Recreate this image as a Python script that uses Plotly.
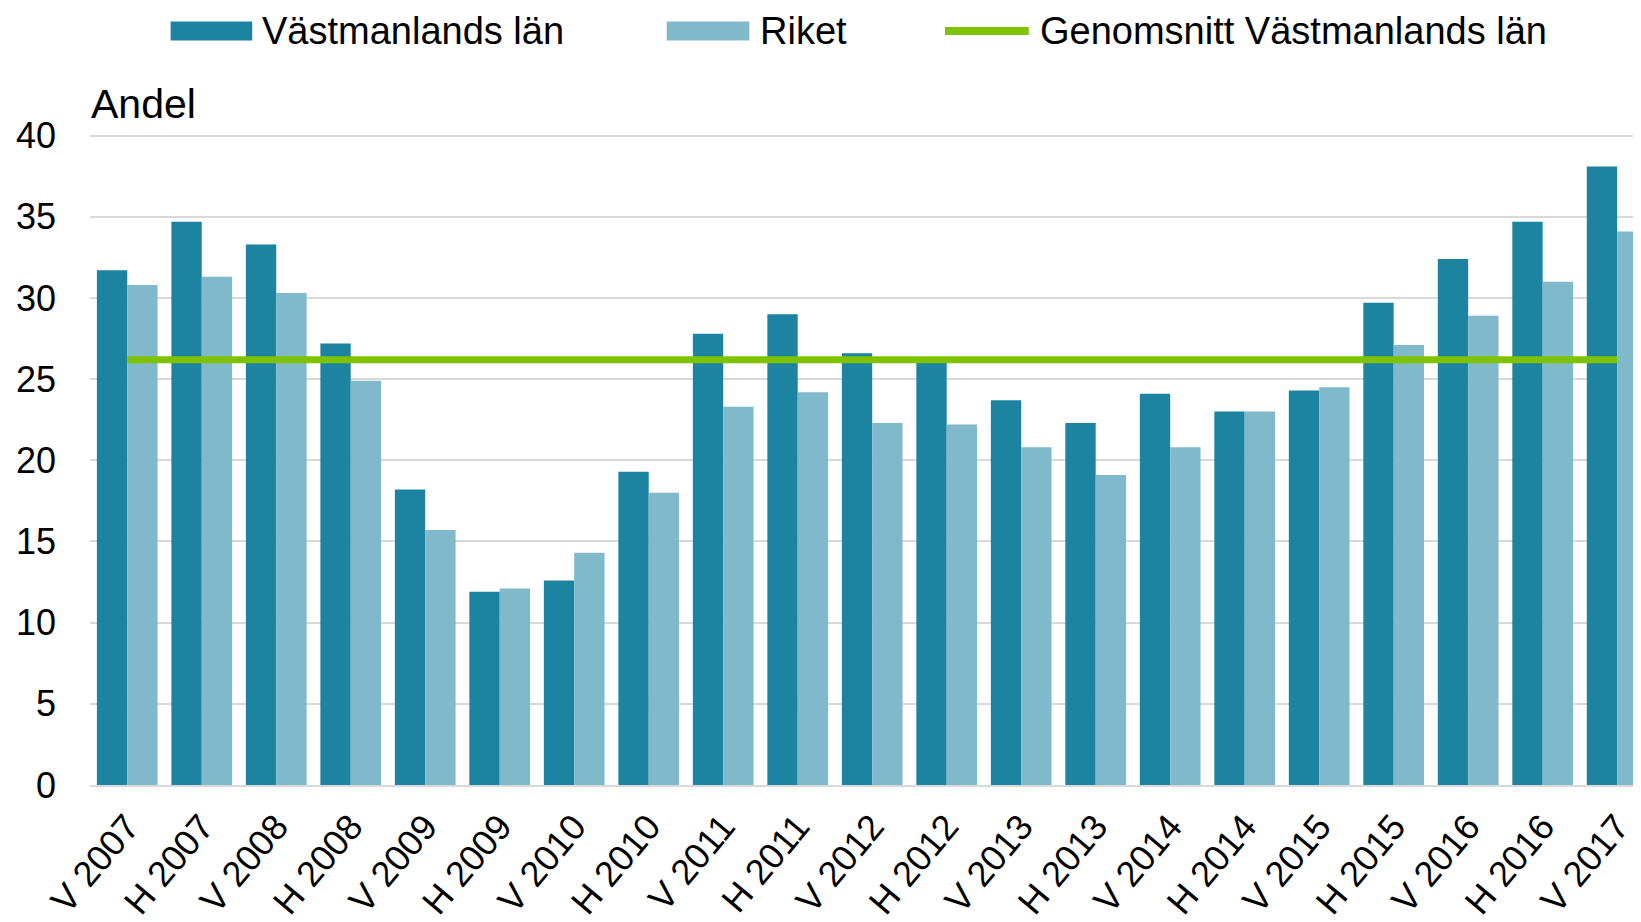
import plotly.graph_objects as go
import numpy as np

categories = ["V 2007", "H 2007", "V 2008", "H 2008", "V 2009", "H 2009", "V 2010",
              "H 2010", "V 2011", "H 2011", "V 2012", "H 2012", "V 2013", "H 2013",
              "V 2014", "H 2014", "V 2015", "H 2015", "V 2016", "H 2016", "V 2017"]
vastmanland = [31.7, 34.7, 33.3, 27.2, 18.2, 11.9, 12.6, 19.3, 27.8, 29.0, 26.6,
               26.1, 23.7, 22.3, 24.1, 23.0, 24.3, 29.7, 32.4, 34.7, 38.1]
riket = [30.8, 31.3, 30.3, 24.9, 15.7, 12.1, 14.3, 18.0, 23.3, 24.2, 22.3,
         22.2, 20.8, 19.1, 20.8, 23.0, 24.5, 27.1, 28.9, 31.0, 34.1]
avg_value = round(float(np.mean(vastmanland)), 1)
avg_line = [avg_value] * len(categories)

names = ["Västmanlands län", "Riket", "Genomsnitt Västmanlands län"]
c_dark = "#1C83A1"
c_light = "#80B9CA"
c_green = "#7FC300"
FONT = "Liberation Sans, Arial, sans-serif"

OFF = 8  # page body margin
W, H = 1641 - OFF, 922 - OFF
ML, MR, MT, MB = 82, 0, 126, 134
PW = W - ML - MR
PH = H - MT - MB

def px_x(p):  # window pixel -> paper
    return (p - OFF - ML) / PW

def px_y(p):
    return (H - MB - (p - OFF)) / PH

fig = go.Figure()
fig.add_trace(go.Bar(x=categories, y=vastmanland, name=names[0], marker_color=c_dark,
                     marker_line_width=0))
fig.add_trace(go.Bar(x=categories, y=riket, name=names[1], marker_color=c_light,
                     marker_line_width=0))
fig.add_trace(go.Scatter(x=categories, y=avg_line, name=names[2], mode="lines",
                         line=dict(color=c_green, width=7)))

# manual legend
shapes = []
annotations = []
leg_items = [
    (170.6, 252.2, "bar", c_dark, 260.0, names[0]),
    (666.7, 749.4, "bar", c_light, 758.0, names[1]),
    (945.0, 1028.8, "line", c_green, 1037.5, names[2]),
]
ly = 30.5
for x0, x1, kind, col, tx, label in leg_items:
    if kind == "bar":
        shapes.append(dict(type="rect", xref="paper", yref="paper",
                           x0=px_x(x0), x1=px_x(x1), y0=px_y(ly + 9.5), y1=px_y(ly - 9.5),
                           fillcolor=col, line=dict(width=0)))
    else:
        shapes.append(dict(type="line", xref="paper", yref="paper",
                           x0=px_x(x0), x1=px_x(x1), y0=px_y(ly), y1=px_y(ly),
                           line=dict(color=col, width=8)))
    annotations.append(dict(text=label, xref="paper", yref="paper", x=px_x(tx), y=px_y(ly),
                             xanchor="left", yanchor="middle", showarrow=False,
                             font=dict(family=FONT, size=38, color="#000000")))

annotations.append(dict(text="Andel", xref="paper", yref="paper", x=px_x(89), y=px_y(104),
                        xanchor="left", yanchor="middle", showarrow=False,
                        font=dict(family=FONT, size=41, color="#000000")))

fig.update_layout(
    width=W, height=H,
    margin=dict(l=ML, r=MR, t=MT, b=MB, pad=0),
    paper_bgcolor="white", plot_bgcolor="white",
    barmode="group", bargap=0.185, bargroupgap=0,
    showlegend=False,
    shapes=shapes, annotations=annotations,
    font=dict(family=FONT, size=36, color="#000000"),
)
fig.update_xaxes(type="category", range=[-0.5, 20.32], tickangle=-50,
                 tickfont=dict(family=FONT, size=36, color="#000000"),
                 showgrid=False, showline=True, linecolor="#D9D9D9", linewidth=2,
                 ticks="", ticklabelstandoff=4)
fig.update_yaxes(range=[0, 40.1], tickvals=[0, 5, 10, 15, 20, 25, 30, 35, 40],
                 showgrid=True, gridcolor="#D9D9D9",
                 gridwidth=2, zeroline=False, showline=False, ticks="",
                 tickfont=dict(family=FONT, size=36, color="#000000"),
                 ticklabelstandoff=33)

fig.write_html("out.html")
